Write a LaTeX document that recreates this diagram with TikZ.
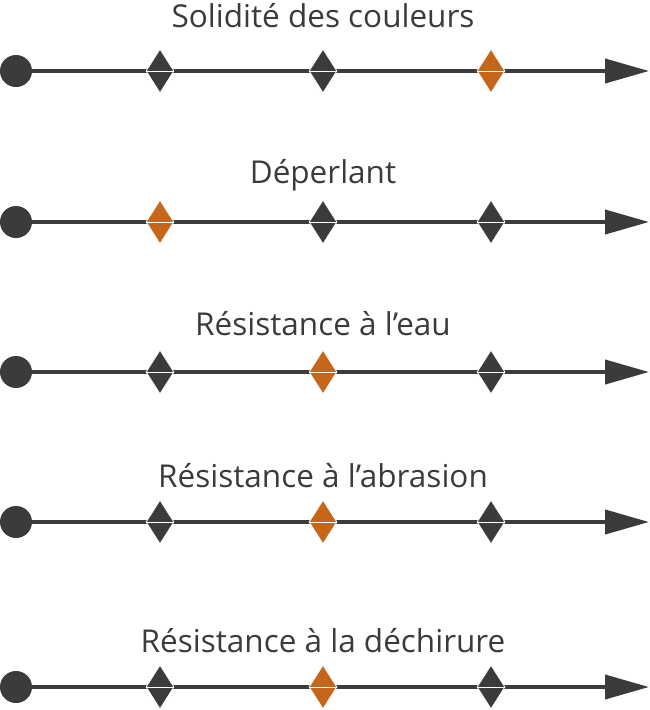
\documentclass[tikz,border=0pt]{standalone}
\usepackage{fontspec}
\setmainfont{Open Sans}
\usetikzlibrary{arrows.meta,shapes.geometric}

\definecolor{axisgray}{HTML}{3B3B3B}
\definecolor{markorange}{HTML}{C5661A}

\tikzset{
  axis/.style={axisgray, line width=4pt, -{Triangle[length=44pt,width=24pt]}},
  origin/.style={circle, fill=axisgray, minimum size=32pt, inner sep=0pt},
  levelmark/.style={diamond, draw=white, line width=0.8pt, minimum width=28pt, minimum height=44pt, inner sep=0pt},
  title/.style={text=axisgray, font=\fontsize{31.5}{38}\selectfont, anchor=base}
}

\begin{document}
\begin{tikzpicture}[x=1pt,y=-1pt]
\useasboundingbox (0,0) rectangle (650,710);

\foreach \row/\ly/\tb/\hi/\lbl in {1/71/27/3/Solidité des couleurs,
        2/222/183/1/Déperlant,
        3/372/335/2/Résistance à l’eau,
        4/522/487/2/Résistance à l’abrasion,
        5/687/652/2/Résistance à la déchirure} {
    \node[title] (t\row) at (323,\tb) {\lbl};
    \node[origin] (s\row) at (16,\ly) {};
    \coordinate (e\row) at (649,\ly);
    \draw[axis] (s\row.center) -- (e\row);

    \foreach \i/\x in {1/160,2/323,3/491} {
        \ifnum\i=\hi \def\mcol{markorange}\else \def\mcol{axisgray}\fi
        \node[levelmark, fill=\mcol] (d\row-\i) at (\x,\ly) {};
        \draw[white, line width=0.8pt] (d\row-\i.west) -- (d\row-\i.east);
    }
}
\end{tikzpicture}
\end{document}
